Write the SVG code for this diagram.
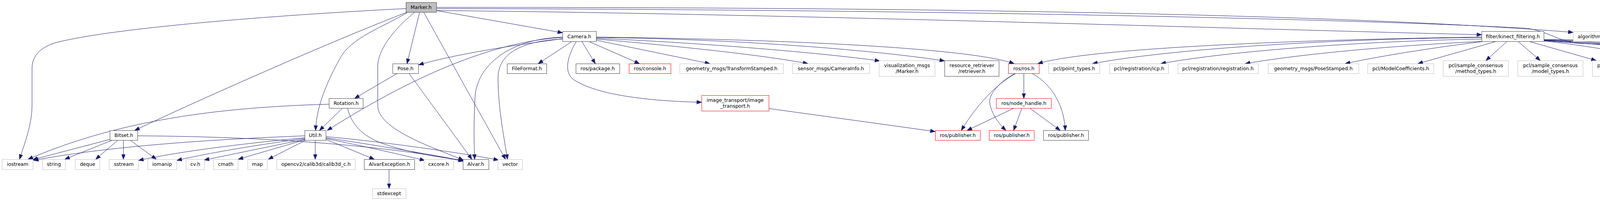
<svg xmlns="http://www.w3.org/2000/svg" width="5477" height="515" viewBox="0 0 5477 515">
<style>
rect{fill:#fff;stroke-width:1}
.n{stroke:#404040}
.g{stroke:#bfbfbf}
.r{stroke:#ff0000}
.root{fill:#bfbfbf;stroke:#404040}
text{font-family:"DejaVu Sans","Liberation Sans",sans-serif;font-size:12.5px;text-anchor:middle;fill:#000}
.e path{fill:none;stroke:#191970;stroke-width:1;marker-end:url(#ah)}
</style>
<defs>
<marker id="ah" markerUnits="userSpaceOnUse" markerWidth="13" markerHeight="10" refX="12" refY="4.5" orient="auto" overflow="visible"><path d="M0,0 L12,4.5 L0,9 z" fill="#191970" stroke="#191970" stroke-width="1"/></marker>
</defs>
<rect x="0" y="0" width="5477" height="515" style="fill:#fff;stroke:none"/>
<g id="edges" class="e">
<!-- Marker.h -->
<path d="M1039,22 C760,36 300,68 140,110 C95,125 82,150 82,175 L82,270 C82,320 62,370 50,408"/>
<path d="M1040,32 C850,105 500,260 345,334"/>
<path d="M1043,32 C980,70 900,95 870,150 C840,205 810,270 808,334"/>
<path d="M1061,32 C990,90 967,140 967,170 L967,270 C967,330 1100,375 1186,410"/>
<path d="M1074,32 L1042,163"/>
<path d="M1085,32 L1294,408"/>
<path d="M1117,27 L1440,84"/>
<path d="M1117,19 C2500,18 3500,40 4027,83"/>
<path d="M1117,22 C2400,24 3500,50 3900,72 C3950,75 3980,100 4030,110 C4060,116 4500,112 4800,113 C5100,114 5300,140 5367,163"/>
<path d="M1117,27 C2000,35 3200,75 3793,89"/>
<!-- Camera.h -->
<path d="M1440,99 C1380,108 1200,130 1072,166"/>
<path d="M1440,96 C1280,105 1080,180 838,334"/>
<path d="M1440,95 C1300,100 1220,170 1216,250 C1212,330 1214,370 1215,408"/>
<path d="M1440,100 C1330,105 1275,140 1275,200 C1275,280 1292,360 1299,408"/>
<path d="M1463,107 L1378,163"/>
<path d="M1490,107 L1524,163"/>
<path d="M1509,107 L1637,163"/>
<path d="M1526,103 L1817,163"/>
<path d="M1475,107 C1455,140 1440,185 1470,205 C1540,250 1700,260 1796,262"/>
<path d="M1526,100 C1700,115 1950,140 2068,163"/>
<path d="M1526,98 C1800,110 2100,135 2252,156"/>
<path d="M1526,96 C1900,100 2250,130 2418,156"/>
<path d="M1526,95 C2100,102 2500,128 2596,163"/>
<!-- Pose.h -->
<path d="M1017,188 L908,252"/>
<path d="M1047,188 L1208,408"/>
<!-- Rotation.h -->
<path d="M842,267 C550,275 300,310 72,408"/>
<path d="M876,278 L818,334"/>
<path d="M890,278 C900,320 930,350 980,368 C1050,392 1120,402 1186,411"/>
<!-- Util.h -->
<path d="M780,348 C600,355 300,370 86,411"/>
<path d="M780,353 C600,370 450,390 355,411"/>
<path d="M780,355 C650,372 520,395 453,411"/>
<path d="M780,357 L523,410"/>
<path d="M781,358 L610,408"/>
<path d="M783,359 L687,408"/>
<path d="M807,359 L807,408"/>
<path d="M834,357 L958,408"/>
<path d="M834,355 C900,368 1000,390 1087,411"/>
<path d="M834,353 C950,370 1100,395 1186,412"/>
<path d="M834,350 C1000,365 1200,395 1276,410"/>
<!-- Bitset.h -->
<path d="M282,357 L84,409"/>
<path d="M288,359 L166,408"/>
<path d="M302,359 L245,408"/>
<path d="M316,359 L316,408"/>
<path d="M333,359 L400,408"/>
<path d="M352,348 C700,350 1000,375 1186,413"/>
<!-- AlvarException.h -->
<path d="M996,434 L996,483"/>
<!-- image_transport -->
<path d="M1968,278 L2394,337"/>
<!-- ros/ros.h -->
<path d="M2621,188 L2621,252"/>
<path d="M2601,188 C2550,215 2500,270 2461,334"/>
<path d="M2598,188 C2560,210 2530,240 2534,265 C2538,290 2555,315 2575,334"/>
<path d="M2642,188 C2700,220 2725,280 2727,334"/>
<!-- ros/node_handle.h -->
<path d="M2596,277 L2476,334"/>
<path d="M2616,277 L2595,334"/>
<path d="M2636,277 L2714,334"/>
<!-- kinect_filtering.h -->
<path d="M3793,95 C3400,100 2800,120 2657,163"/>
<path d="M3793,96 C3400,100 3000,125 2797,163"/>
<path d="M3793,100 C3500,105 3150,130 2972,163"/>
<path d="M3797,106 C3600,115 3350,135 3188,163"/>
<path d="M3800,106 C3700,118 3550,140 3444,163"/>
<path d="M3831,106 L3630,163"/>
<path d="M3858,106 L3804,155"/>
<path d="M3886,106 L3943,155"/>
<path d="M3914,106 L4086,155"/>
<path d="M3952,105 C4050,115 4200,140 4285,163"/>
<path d="M3952,104 C4150,115 4350,140 4438,156"/>
<path d="M3952,103 C4200,115 4500,140 4620,163"/>
<path d="M3952,102 C4300,110 4650,135 4807,163"/>
<path d="M3952,101 C4300,105 4800,130 5003,163"/>
<path d="M3952,104 C4400,140 4900,130 5176,156"/>
<path d="M3952,103 C4500,125 5100,135 5367,163"/>
</g>
<g id="n_marker"><rect class="root" x="1039.5" y="6.5" width="78" height="25"/><text x="1078" y="23">Marker.h</text></g>
<g id="n_camera"><rect class="n" x="1440.5" y="80.5" width="86" height="26"/><text x="1483" y="98">Camera.h</text></g>
<g id="n_kinect"><rect class="n" x="3793.5" y="80.5" width="159" height="26"/><text x="3873" y="98">filter/kinect_filtering.h</text></g>
<g id="n_algorithm"><rect class="g" x="4027.5" y="80.5" width="83" height="26"/><text x="4069" y="98">algorithm</text></g>
<g id="n_pose"><rect class="n" x="1005.5" y="163.5" width="66" height="25"/><text x="1038" y="180">Pose.h</text></g>
<g id="n_fileformat"><rect class="n" x="1298.5" y="163.5" width="101" height="25"/><text x="1349" y="180">FileFormat.h</text></g>
<g id="n_package"><rect class="n" x="1474.5" y="163.5" width="112" height="25"/><text x="1530" y="180">ros/package.h</text></g>
<g id="n_console"><rect class="r" x="1610.5" y="163.5" width="107" height="25"/><text x="1664" y="180">ros/console.h</text></g>
<g id="n_transformstamped"><rect class="g" x="1740.5" y="163.5" width="265" height="25"/><text x="1873" y="180">geometry_msgs/TransformStamped.h</text></g>
<g id="n_camerainfo"><rect class="g" x="2028.5" y="163.5" width="198" height="25"/><text x="2127" y="180">sensor_msgs/CameraInfo.h</text></g>
<g id="n_vismarker"><rect class="g" x="2250.5" y="155.5" width="143" height="40"/><text x="2322" y="172">visualization_msgs</text><text x="2322" y="187">/Marker.h</text></g>
<g id="n_retriever"><rect class="n" x="2418.5" y="155.5" width="139" height="40"/><text x="2488" y="172">resource_retriever</text><text x="2488" y="187">/retriever.h</text></g>
<g id="n_ros"><rect class="r" x="2581.5" y="163.5" width="79" height="25"/><text x="2621" y="180">ros/ros.h</text></g>
<g id="n_pointtypes"><rect class="g" x="2684.5" y="163.5" width="131" height="25"/><text x="2750" y="180">pcl/point_types.h</text></g>
<g id="n_icp"><rect class="g" x="2840.5" y="163.5" width="151" height="25"/><text x="2916" y="180">pcl/registration/icp.h</text></g>
<g id="n_registration"><rect class="g" x="3015.5" y="163.5" width="206" height="25"/><text x="3118" y="180">pcl/registration/registration.h</text></g>
<g id="n_posestamped"><rect class="g" x="3246.5" y="163.5" width="232" height="25"/><text x="3362" y="180">geometry_msgs/PoseStamped.h</text></g>
<g id="n_modelcoef"><rect class="g" x="3501.5" y="163.5" width="169" height="25"/><text x="3586" y="180">pcl/ModelCoefficients.h</text></g>
<g id="n_methodtypes"><rect class="g" x="3694.5" y="155.5" width="167" height="40"/><text x="3778" y="172">pcl/sample_consensus</text><text x="3778" y="187">/method_types.h</text></g>
<g id="n_modeltypes"><rect class="g" x="3885.5" y="155.5" width="167" height="40"/><text x="3969" y="172">pcl/sample_consensus</text><text x="3969" y="187">/model_types.h</text></g>
<g id="n_sacseg"><rect class="g" x="4076.5" y="155.5" width="159" height="40"/><text x="4156" y="172">pcl/segmentation/sac</text><text x="4156" y="187">_segmentation.h</text></g>
<g id="n_pclros"><rect class="n" x="4258.5" y="163.5" width="157" height="25"/><text x="4337" y="180">pcl_ros/point_cloud.h</text></g>
<g id="n_extract"><rect class="g" x="4439.5" y="155.5" width="128" height="40"/><text x="4503" y="172">pcl/filters/extract</text><text x="4503" y="187">_indices.h</text></g>
<g id="n_lexical"><rect class="g" x="4591.5" y="163.5" width="163" height="25"/><text x="4673" y="180">boost/lexical_cast.hpp</text></g>
<g id="n_cvcore"><rect class="g" x="4778.5" y="163.5" width="168" height="25"/><text x="4862" y="180">opencv2/core/core.hpp</text></g>
<g id="n_matrix3x3"><rect class="r" x="4970.5" y="163.5" width="184" height="25"/><text x="5062" y="180">tf/LinearMath/Matrix3x3.h</text></g>
<g id="n_pclconv"><rect class="n" x="5178.5" y="155.5" width="146" height="40"/><text x="5251" y="172">pcl_conversions/pcl</text><text x="5251" y="187">_conversions.h</text></g>
<g id="n_stdvector"><rect class="g" x="5348.5" y="163.5" width="124" height="25"/><text x="5410" y="180">Eigen/StdVector</text></g>
<g id="n_imagetransport"><rect class="r" x="1796.5" y="244.5" width="172" height="40"/><text x="1882" y="261">image_transport/image</text><text x="1882" y="276">_transport.h</text></g>
<g id="n_rotation"><rect class="n" x="842.5" y="252.5" width="87" height="25"/><text x="886" y="269">Rotation.h</text></g>
<g id="n_nodehandle"><rect class="r" x="2550.5" y="252.5" width="141" height="25"/><text x="2621" y="269">ros/node_handle.h</text></g>
<g id="n_bitset"><rect class="n" x="281.5" y="334.5" width="71" height="25"/><text x="317" y="351">Bitset.h</text></g>
<g id="n_util"><rect class="n" x="780.5" y="334.5" width="54" height="25"/><text x="807" y="351">Util.h</text></g>
<g id="n_publisher1"><rect class="r" x="2394.5" y="334.5" width="115" height="25"/><text x="2452" y="351">ros/publisher.h</text></g>
<g id="n_publisher2"><rect class="r" x="2532.5" y="334.5" width="115" height="25"/><text x="2590" y="351">ros/publisher.h</text></g>
<g id="n_publisher3"><rect class="n" x="2671.5" y="334.5" width="115" height="25"/><text x="2729" y="351">ros/publisher.h</text></g>
<g id="n_iostream"><rect class="g" x="5.5" y="408.5" width="79" height="26"/><text x="45" y="425">iostream</text></g>
<g id="n_string"><rect class="g" x="108.5" y="408.5" width="59" height="26"/><text x="138" y="425">string</text></g>
<g id="n_deque"><rect class="g" x="192.5" y="408.5" width="63" height="26"/><text x="224" y="425">deque</text></g>
<g id="n_sstream"><rect class="g" x="279.5" y="408.5" width="75" height="26"/><text x="317" y="425">sstream</text></g>
<g id="n_iomanip"><rect class="g" x="378.5" y="408.5" width="74" height="26"/><text x="415" y="425">iomanip</text></g>
<g id="n_cvh"><rect class="g" x="476.5" y="408.5" width="47" height="26"/><text x="500" y="425">cv.h</text></g>
<g id="n_cmath"><rect class="g" x="546.5" y="408.5" width="63" height="26"/><text x="578" y="425">cmath</text></g>
<g id="n_map"><rect class="g" x="634.5" y="408.5" width="50" height="26"/><text x="659" y="425">map</text></g>
<g id="n_calib3d"><rect class="g" x="708.5" y="408.5" width="201" height="26"/><text x="809" y="425">opencv2/calib3d/calib3d_c.h</text></g>
<g id="n_alvarexception"><rect class="n" x="932.5" y="408.5" width="129" height="26"/><text x="997" y="425">AlvarException.h</text></g>
<g id="n_cxcore"><rect class="g" x="1085.5" y="408.5" width="76" height="26"/><text x="1123" y="425">cxcore.h</text></g>
<g id="n_alvar"><rect class="n" x="1185.5" y="408.5" width="66" height="26"/><text x="1218" y="425">Alvar.h</text></g>
<g id="n_vector"><rect class="g" x="1274.5" y="408.5" width="63" height="26"/><text x="1306" y="425">vector</text></g>
<g id="n_stdexcept"><rect class="g" x="953.5" y="483.5" width="86" height="25"/><text x="996" y="500">stdexcept</text></g>
</svg>
